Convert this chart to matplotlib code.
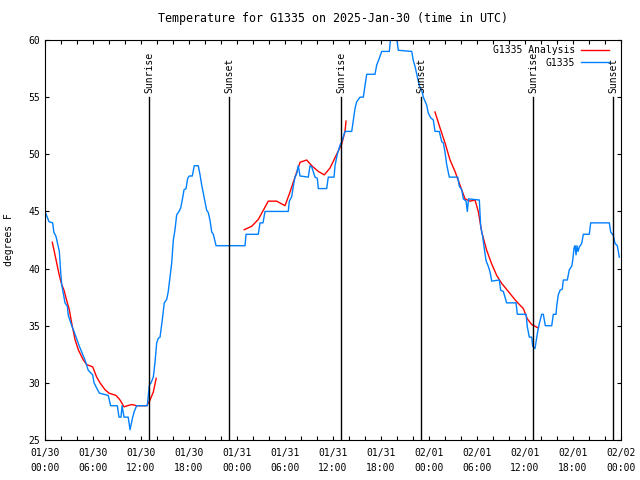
import numpy as np
import matplotlib
matplotlib.use("Agg")
import matplotlib.pyplot as plt

# hours since 2025-01-30 00:00 UTC
obs_hours = [0.0, 0.5, 0.96, 1.1, 1.38, 1.54, 1.79, 1.96, 2.09, 2.29, 2.5, 2.79, 2.91,
             3.34, 3.63, 3.88, 4.29, 4.59, 5.0, 5.41, 5.96, 6.13, 6.79, 7.91, 8.2,
             9.04, 9.25, 9.5, 9.63, 9.88, 10.4, 10.63, 10.96, 11.16, 11.46, 12.79,
             13.04, 13.25, 13.54, 13.75, 13.96, 14.16, 14.38, 14.66, 14.91, 15.21,
             15.41, 15.63, 15.84, 16.04, 16.25, 16.46, 16.75, 16.96, 17.16, 17.38,
             17.63, 17.84, 18.04, 18.41, 18.66, 19.16, 19.38, 19.59, 19.79, 20.0,
             20.21, 20.41, 20.63, 20.84, 21.04, 21.38, 25.0, 25.13, 26.66, 26.88,
             27.25, 27.5, 30.41, 30.54, 30.84, 31.04, 31.25, 31.46, 31.66, 31.88,
             32.91, 33.13, 33.34, 33.75, 34.04, 34.16, 35.21, 35.41, 36.13, 36.25,
             36.54, 36.88, 37.09, 37.5, 38.34, 38.54, 38.75, 38.96, 39.38, 39.79,
             40.0, 40.21, 41.25, 41.46, 41.79, 42.09, 43.04, 43.21, 43.96, 44.16,
             45.84, 46.04, 46.25, 46.54, 46.79, 47.09, 47.29, 47.71, 47.91, 48.21,
             48.54, 48.75, 49.29, 49.59, 49.79, 50.0, 50.21, 50.54, 51.59, 51.79,
             52.09, 52.29, 52.63, 52.79, 52.94, 54.29, 54.46, 54.71, 54.88, 55.13,
             55.41, 55.63, 55.84, 56.79, 56.96, 57.29, 57.71, 58.88, 59.04, 60.13,
             60.29, 60.54, 60.84, 60.96, 61.25, 61.54, 61.79, 62.09, 62.29, 62.54,
             63.34, 63.54, 63.88, 63.96, 64.16, 64.38, 64.66, 64.79, 65.29, 65.54,
             65.84, 65.96, 66.13, 66.25, 66.38, 66.5, 66.63, 66.79, 67.09, 67.29,
             68.04, 68.21, 70.54, 70.71, 71.04, 71.25, 71.54, 71.66, 71.79]
obs_temps = [45.0, 44.1, 44.0, 43.2, 42.8, 42.3, 41.5, 39.7, 38.6, 37.8, 37.0, 36.7, 35.9,
             35.0, 34.5, 34.0, 33.2, 32.7, 32.0, 31.1, 30.7, 30.0, 29.1, 28.9, 28.0,
             28.0, 27.0, 27.0, 28.0, 27.0, 27.0, 25.9, 27.0, 27.5, 28.0, 28.0,
             29.8, 30.0, 30.5, 31.8, 33.5, 33.9, 34.0, 35.5, 37.0, 37.3,
             38.0, 39.3, 40.5, 42.5, 43.4, 44.7, 45.0, 45.3, 46.0, 46.9,
             47.0, 47.9, 48.1, 48.1, 49.0, 49.0, 48.2, 47.3, 46.6, 45.9,
             45.1, 44.9, 44.2, 43.2, 43.0, 42.0, 42.0, 43.0, 43.0, 44.0,
             44.0, 45.0, 45.0, 45.9, 46.3, 47.2, 48.0, 48.3, 49.0, 48.1,
             48.0, 49.0, 48.9, 48.0, 47.9, 47.0, 47.0, 48.0, 48.0, 49.0,
             50.0, 50.8, 51.1, 52.0, 52.0, 53.0, 54.0, 54.6, 55.0, 55.0,
             56.0, 57.0, 57.0, 57.8, 58.4, 59.0, 59.0, 60.2, 60.2, 59.1,
             59.0, 58.2, 57.7, 56.8, 56.0, 55.6, 55.0, 54.3, 53.6, 53.2,
             53.0, 52.0, 52.0, 51.1, 51.0, 50.2, 49.1, 48.0, 48.0, 47.2,
             46.9, 46.1, 45.9, 45.0, 46.1, 46.0, 43.7, 42.8, 41.9, 40.7,
             40.2, 39.7, 38.9, 39.0, 38.1, 38.0, 37.0, 37.0, 36.0, 36.0,
             34.9, 34.0, 34.0, 33.2, 33.0, 34.3, 35.2, 36.0, 36.0, 35.0,
             35.0, 36.0, 36.0, 36.7, 37.7, 38.1, 38.2, 39.0, 39.0, 39.9,
             40.2, 40.7, 41.8, 42.0, 41.2, 42.0, 41.5, 41.9, 42.2, 43.0,
             43.0, 44.0, 44.0, 43.2, 42.9, 42.2, 42.0, 41.5, 41.0]

# analysis, nan = gap
ana_hours = [0.91, 1.13, 1.46, 1.79, 2.09, 2.38, 2.71, 3.04, 3.34, 3.75, 4.16, 4.79,
             5.21, 5.96, 6.46, 6.88, 7.5, 8.0, 8.88, 9.38, 9.88, 10.29, 10.84, 11.5,
             12.71, 13.13, 13.54, 13.9, np.nan,
             24.9, 25.84, 26.66, 27.29, 27.91, 28.96, 30.0, 30.63, 31.25, 31.88,
             32.71, 33.34, 34.16, 34.91, 35.63, 36.46, 37.09, 37.5, 37.63, np.nan,
             48.75, 49.38, 50.0, 50.63, 51.25, 51.88, 52.5, 53.13, 53.75, 54.16,
             54.59, 55.21, 55.84, 56.46, 57.09, 57.91, 58.96, 59.79, 60.29, 60.84,
             61.67]
ana_temps = [42.3, 41.6, 40.5, 39.4, 38.6, 38.1, 37.2, 36.4, 35.2, 33.8, 32.9, 32.0,
             31.6, 31.4, 30.5, 30.0, 29.4, 29.1, 28.9, 28.5, 27.9, 28.0, 28.1, 28.0,
             28.0, 28.5, 29.2, 30.4, np.nan,
             43.4, 43.7, 44.3, 45.1, 45.9, 45.9, 45.5, 46.7, 48.0, 49.3,
             49.5, 49.0, 48.5, 48.2, 48.8, 50.0, 50.9, 52.0, 52.9, np.nan,
             53.7, 52.3, 51.0, 49.5, 48.5, 47.3, 46.1, 45.9, 46.0, 45.0,
             43.2, 41.6, 40.4, 39.4, 38.7, 38.0, 37.1, 36.5, 35.6, 35.1,
             34.8]

sun_hours = [13, 23, 37, 47, 61, 71]
sun_names = ["Sunrise", "Sunset", "Sunrise", "Sunset", "Sunrise", "Sunset"]

tick_hours = [0, 6, 12, 18, 24, 30, 36, 42, 48, 54, 60, 66, 72]
tick_labels = ["01/30\n00:00", "01/30\n06:00", "01/30\n12:00", "01/30\n18:00",
               "01/31\n00:00", "01/31\n06:00", "01/31\n12:00", "01/31\n18:00",
               "02/01\n00:00", "02/01\n06:00", "02/01\n12:00", "02/01\n18:00",
               "02/02\n00:00"]

plt.rcParams['font.family'] = ['DejaVu Sans Mono']
plt.rcParams['font.size'] = 7

fig = plt.figure(figsize=(6.4, 4.8), dpi=100)
ax = fig.add_axes([45 / 640, 40 / 480, 576 / 640, 400 / 480])

ax.plot(ana_hours, ana_temps, color='#ff0000', lw=1.0, label='G1335 Analysis')
ax.plot(obs_hours, obs_temps, color='#0080ff', lw=1.0, label='G1335')

# sunrise / sunset markers
for h, name in zip(sun_hours, sun_names):
    ax.plot([h, h], [25, 55], color='black', lw=1.0)
    ax.text(h, 55.4, name, rotation=90, ha='center', va='bottom')

ax.set_xlim(0, 72)
ax.set_ylim(25, 60)
ax.set_xticks(tick_hours)
ax.set_xticklabels(tick_labels, linespacing=1.55)
ax.set_xticks(np.arange(0, 73, 2), minor=True)
ax.set_yticks(np.arange(25, 61, 5))
ax.tick_params(which='both', direction='in', top=True, right=True, length=3, width=0.8)
ax.tick_params(axis='x', pad=6)
ax.set_ylabel('degrees F', labelpad=10)
ax.set_title('Temperature for G1335 on 2025-Jan-30 (time in UTC)', pad=13)

ax.legend(loc='upper right', bbox_to_anchor=(0.986, 0.997), borderaxespad=0,
          frameon=False, markerfirst=False, handlelength=2.9,
          handletextpad=0.6, labelspacing=0.25)

fig.savefig('out.png', dpi=100)
